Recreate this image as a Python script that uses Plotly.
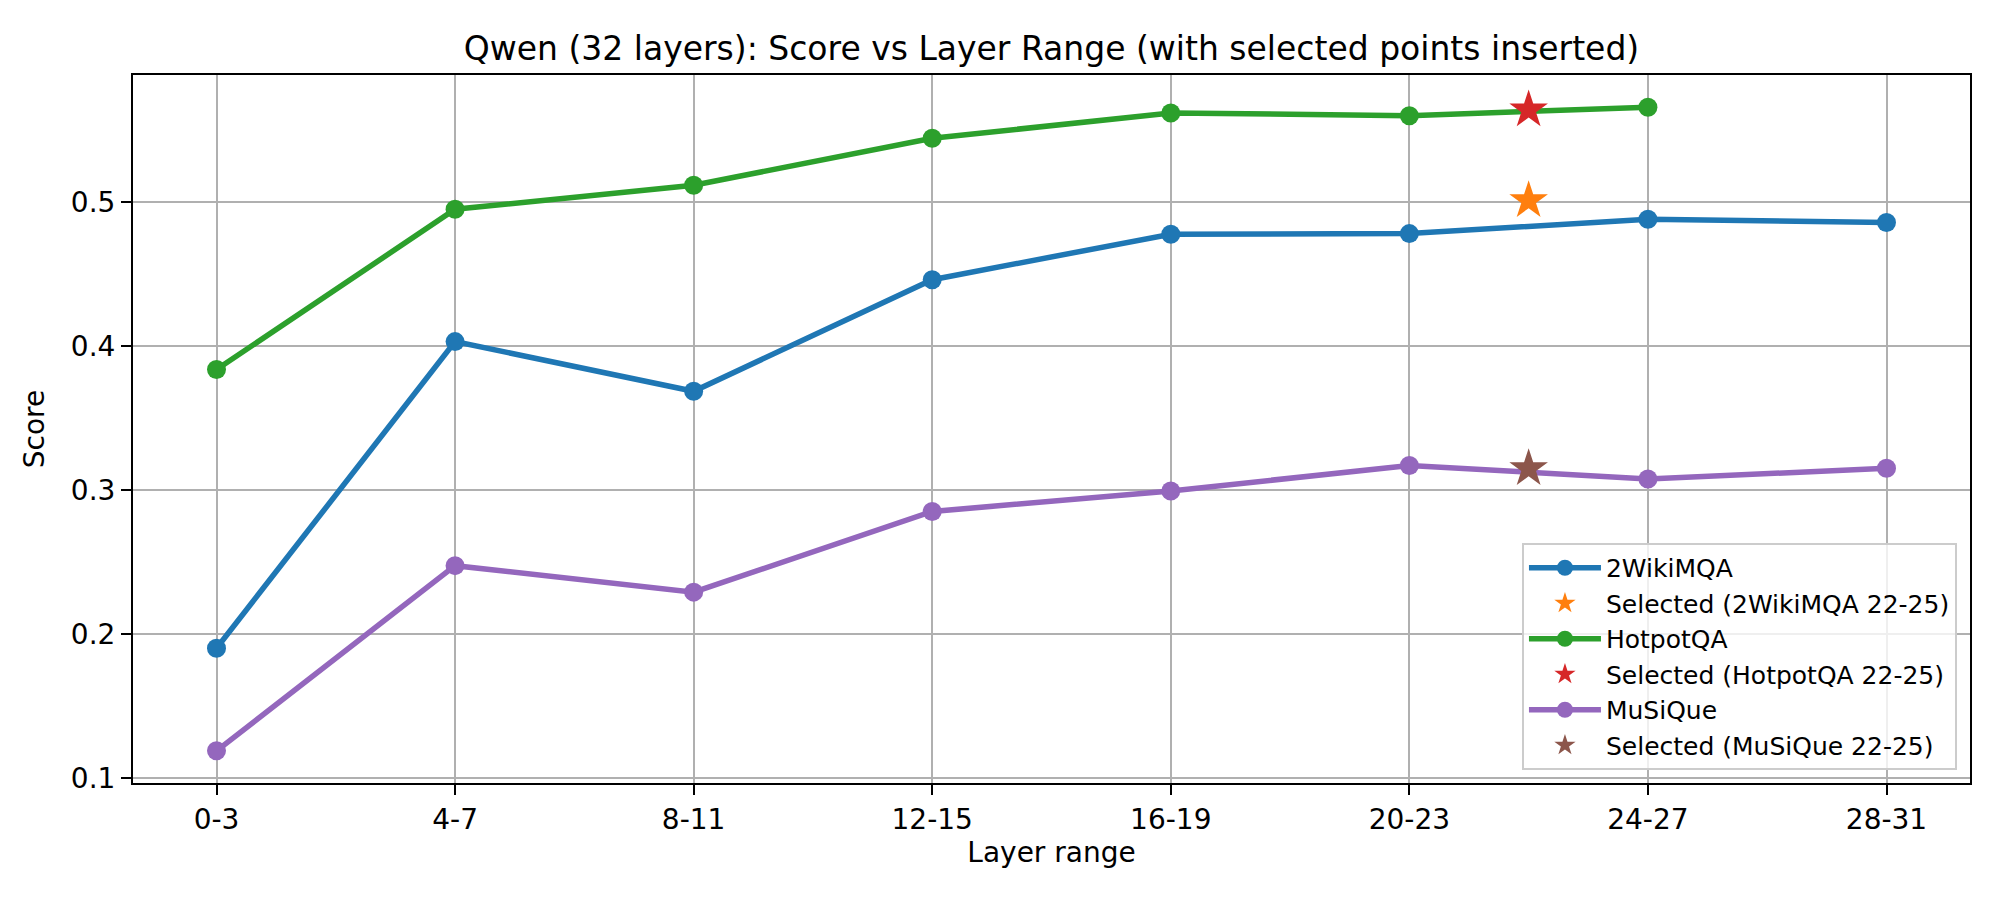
import plotly.graph_objects as go

# layer ranges on the x axis (Qwen has 32 layers, 4 per bucket)
layer_ranges = ["0-3", "4-7", "8-11", "12-15", "16-19", "20-23", "24-27", "28-31"]

wiki_scores = [0.190, 0.403, 0.3685, 0.446, 0.4776, 0.478, 0.488, 0.4857]
hotpot_scores = [0.3836, 0.4949, 0.5116, 0.5442, 0.5618, 0.5599, 0.5658]
musique_scores = [0.1188, 0.2474, 0.229, 0.285, 0.2993, 0.3169, 0.3076, 0.315]

# the hand-picked 22-25 layer window for each dataset
selected_range = "22-25"
selected_wiki = 0.501
selected_hotpot = 0.564
selected_musique = 0.3148


def mid(r):
    a, b = r.split("-")
    return (int(a) + int(b)) / 2


def padded(lo, hi, frac=0.05):
    d = (hi - lo) * frac
    return [lo - d, hi + d]


xs = [mid(r) for r in layer_ranges]
x_sel = mid(selected_range)

series = [
    ("2WikiMQA", wiki_scores, "#1f77b4", selected_wiki, "#ff7f0e"),
    ("HotpotQA", hotpot_scores, "#2ca02c", selected_hotpot, "#d62728"),
    ("MuSiQue", musique_scores, "#9467bd", selected_musique, "#8c564b"),
]

fig = go.Figure()
all_y = []
for name, ys, col, sel, sel_col in series:
    fig.add_trace(go.Scatter(x=xs[:len(ys)], y=ys, name=name, mode="lines+markers",
                             line=dict(color=col, width=5.5),
                             marker=dict(color=col, size=19, symbol="circle")))
    fig.add_trace(go.Scatter(x=[x_sel], y=[sel], name="Selected ({} {})".format(name, selected_range),
                             mode="markers",
                             marker=dict(color=sel_col, size=29, symbol="star", line=dict(width=0))))
    all_y += list(ys) + [sel]

font = "DejaVu Sans, Arial, sans-serif"
# page body has an 8px margin, so the figure is 8px smaller each way
fig.update_layout(
    width=1992, height=892,
    margin=dict(l=125, r=30, t=67, b=117),
    plot_bgcolor="white", paper_bgcolor="white",
    font=dict(family=font, size=28, color="black"),
    title=dict(text="Qwen (32 layers): Score vs Layer Range (with selected points inserted)",
               x=0.5, xref="paper", xanchor="center",
               y=1 - 40 / 892, yref="container", yanchor="middle",
               font=dict(size=33)),
    showlegend=True,
    legend=dict(x=0.9929, y=0.0184, xanchor="right", yanchor="bottom",
                bgcolor="rgba(255,255,255,0.8)", bordercolor="#cccccc", borderwidth=2,
                font=dict(size=25), itemwidth=72, tracegroupgap=0),
)
fig.update_xaxes(
    range=padded(min(xs), max(xs)),
    tickmode="array", tickvals=xs, ticktext=layer_ranges,
    showgrid=True, gridcolor="#b0b0b0", gridwidth=2,
    showline=True, linecolor="black", linewidth=2, mirror=True,
    ticks="outside", ticklen=10, tickwidth=2, tickcolor="black",
    zeroline=False,
    title=dict(text="Layer range", standoff=6, font=dict(size=28)),
)
fig.update_yaxes(
    range=padded(min(all_y), max(all_y)),
    tickmode="array", tickvals=[0.1, 0.2, 0.3, 0.4, 0.5],
    showgrid=True, gridcolor="#b0b0b0", gridwidth=2,
    showline=True, linecolor="black", linewidth=2, mirror=True,
    ticks="outside", ticklen=10, tickwidth=2, tickcolor="black",
    zeroline=False,
    title=dict(text="Score", standoff=18, font=dict(size=28)),
)

fig.write_html("out.html")
